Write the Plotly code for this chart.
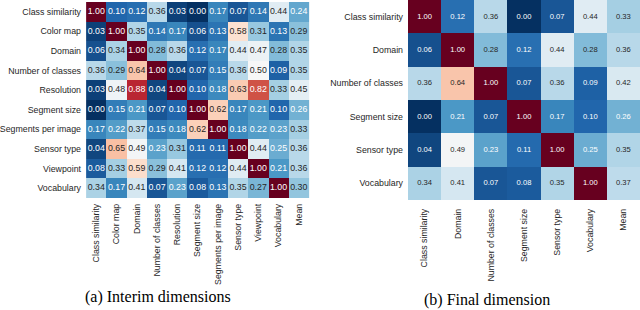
import plotly.graph_objects as go

# ---------------- data ----------------
interim_rows = ["Class similarity", "Color map", "Domain", "Number of classes", "Resolution",
                "Segment size", "Segments per image", "Sensor type", "Viewpoint", "Vocabulary"]
interim_cols = interim_rows + ["Mean"]
interim_vals = [
    [1.00, 0.10, 0.12, 0.36, 0.03, 0.00, 0.17, 0.07, 0.14, 0.44, 0.24],
    [0.03, 1.00, 0.35, 0.14, 0.17, 0.06, 0.13, 0.58, 0.31, 0.13, 0.29],
    [0.06, 0.34, 1.00, 0.28, 0.36, 0.12, 0.17, 0.44, 0.47, 0.28, 0.35],
    [0.36, 0.29, 0.64, 1.00, 0.04, 0.07, 0.15, 0.36, 0.50, 0.09, 0.35],
    [0.03, 0.48, 0.88, 0.04, 1.00, 0.10, 0.18, 0.63, 0.82, 0.33, 0.45],
    [0.00, 0.15, 0.21, 0.07, 0.10, 1.00, 0.62, 0.17, 0.21, 0.10, 0.26],
    [0.17, 0.22, 0.37, 0.15, 0.18, 0.62, 1.00, 0.18, 0.22, 0.23, 0.33],
    [0.04, 0.65, 0.49, 0.23, 0.31, 0.11, 0.11, 1.00, 0.44, 0.25, 0.36],
    [0.08, 0.33, 0.59, 0.29, 0.41, 0.12, 0.12, 0.44, 1.00, 0.21, 0.36],
    [0.34, 0.17, 0.41, 0.07, 0.23, 0.08, 0.13, 0.35, 0.27, 1.00, 0.30],
]

final_rows = ["Class similarity", "Domain", "Number of classes", "Segment size",
              "Sensor type", "Vocabulary"]
final_cols = final_rows + ["Mean"]
final_vals = [
    [1.00, 0.12, 0.36, 0.00, 0.07, 0.44, 0.33],
    [0.06, 1.00, 0.28, 0.12, 0.44, 0.28, 0.36],
    [0.36, 0.64, 1.00, 0.07, 0.36, 0.09, 0.42],
    [0.00, 0.21, 0.07, 1.00, 0.17, 0.10, 0.26],
    [0.04, 0.49, 0.23, 0.11, 1.00, 0.25, 0.35],
    [0.34, 0.41, 0.07, 0.08, 0.35, 1.00, 0.37],
]

captions = ["(a) Interim dimensions", "(b) Final dimension"]

# ---------------- styling helpers ----------------
W, H = 640, 310
rdbu_r_hex = ["#053061", "#2166ac", "#4393c3", "#92c5de", "#d1e5f0", "#f7f7f7",
              "#fddbc7", "#f4a582", "#d6604d", "#b2182b", "#67001f"]
colorscale = [[i / 10, c] for i, c in enumerate(rdbu_r_hex)]


def hex2rgb(h):
    h = h.lstrip("#")
    return [int(h[i:i + 2], 16) / 255 for i in (0, 2, 4)]


def color_at(v):
    v = min(max(v, 0.0), 1.0)
    pos = v * 10
    i = min(int(pos), 9)
    f = pos - i
    a, b = hex2rgb(rdbu_r_hex[i]), hex2rgb(rdbu_r_hex[i + 1])
    return [a[k] + (b[k] - a[k]) * f for k in range(3)]


def text_color(v):
    rgb = color_at(v)
    lin = [c / 12.92 if c <= 0.03928 else ((c + 0.055) / 1.055) ** 2.4 for c in rgb]
    lum = 0.2126 * lin[0] + 0.7152 * lin[1] + 0.0722 * lin[2]
    return "#262626" if lum > 0.408 else "white"


TICKFONT = dict(family="Liberation Sans, Arial, sans-serif", size=8.8, color="#262626")

fig = go.Figure()


def add_heat(rows, cols, vals, xa, ya, fsize):
    fig.add_trace(go.Heatmap(z=vals, x=cols, y=rows, colorscale=colorscale, zmin=0, zmax=1,
                             showscale=False, xaxis=xa, yaxis=ya, hoverinfo="skip"))
    xs, ys, ts, cs = [], [], [], []
    for r, row in zip(rows, vals):
        for c, v in zip(cols, row):
            xs.append(c)
            ys.append(r)
            ts.append(f"{v:.2f}")
            cs.append(text_color(v))
    fig.add_trace(go.Scatter(x=xs, y=ys, text=ts, mode="text", xaxis=xa, yaxis=ya,
                             textfont=dict(family="Liberation Sans, Arial, sans-serif",
                                           size=fsize, color=cs),
                             hoverinfo="skip", showlegend=False))


add_heat(interim_rows, interim_cols, interim_vals, "x", "y", 8.8)
add_heat(final_rows, final_cols, final_vals, "x2", "y2", 7.6)

axis_common = dict(showgrid=False, zeroline=False, showline=False, ticks="",
                   tickfont=TICKFONT, type="category", fixedrange=True)

fig.update_layout(
    width=W, height=H, margin=dict(l=0, r=0, t=0, b=0),
    paper_bgcolor="white", plot_bgcolor="white", showlegend=False,
    xaxis=dict(domain=[85 / W, 310 / W], anchor="y", tickangle=-90,
               ticklabelstandoff=3, **axis_common),
    yaxis=dict(domain=[1 - 198 / H, 1 - 2 / H], anchor="x", autorange="reversed",
               ticklabelstandoff=3, **axis_common),
    xaxis2=dict(domain=[408 / W, 640 / W], anchor="y2", tickangle=-90,
                ticklabelstandoff=6, **axis_common),
    yaxis2=dict(domain=[1 - 200 / H, 1.0], anchor="x2", autorange="reversed",
                ticklabelstandoff=4, **axis_common),
    annotations=[
        dict(text=captions[0], x=158 / W, y=1 - 297 / H, xref="paper", yref="paper",
             showarrow=False, xanchor="center", yanchor="middle",
             font=dict(family="Liberation Serif, Times New Roman, serif", size=16, color="black")),
        dict(text=captions[1], x=487 / W, y=1 - 300 / H, xref="paper", yref="paper",
             showarrow=False, xanchor="center", yanchor="middle",
             font=dict(family="Liberation Serif, Times New Roman, serif", size=16, color="black")),
    ],
)

fig.write_html("out.html", config={"displayModeBar": False, "staticPlot": True},
               post_script="document.body.style.margin='0';document.body.style.overflow='hidden';")
